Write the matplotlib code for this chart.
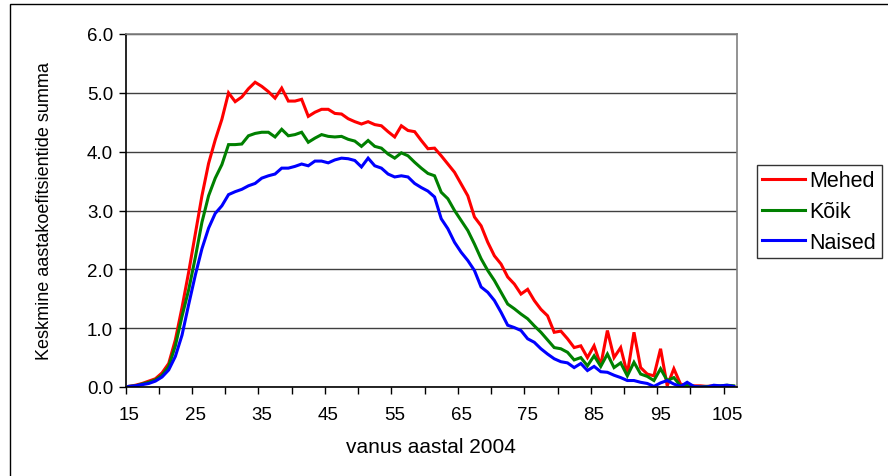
import numpy as np
import matplotlib.pyplot as plt
from matplotlib.patches import Rectangle

plt.rcParams['font.family'] = ['Liberation Sans', 'DejaVu Sans']

# vanus 15..106
ages = list(range(15, 107))

mehed = [0.01, 0.03, 0.06, 0.10, 0.14, 0.24, 0.40, 0.80, 1.35, 1.95,
         2.60, 3.25, 3.80, 4.20, 4.55, 5.00, 4.85, 4.93, 5.07, 5.18,
         5.11, 5.02, 4.91, 5.08, 4.86, 4.86, 4.89, 4.60, 4.67, 4.72,
         4.72, 4.65, 4.64, 4.56, 4.51, 4.47, 4.51, 4.46, 4.44, 4.34,
         4.25, 4.44, 4.36, 4.34, 4.19, 4.05, 4.06, 3.93, 3.79, 3.65,
         3.45, 3.25, 2.89, 2.74, 2.46, 2.23, 2.09, 1.87, 1.75, 1.58,
         1.66, 1.47, 1.32, 1.21, 0.93, 0.95, 0.82, 0.67, 0.70, 0.50,
         0.70, 0.37, 0.96, 0.50, 0.67, 0.22, 0.93, 0.33, 0.22, 0.19,
         0.65, 0.02, 0.31, 0.05, 0.02, 0.02, 0.02, 0.01, 0.02, 0.01,
         0.02, 0.01]

koik = [0.01, 0.02, 0.05, 0.08, 0.12, 0.20, 0.35, 0.70, 1.20, 1.65,
        2.20, 2.80, 3.25, 3.55, 3.78, 4.12, 4.12, 4.13, 4.27, 4.31,
        4.33, 4.33, 4.25, 4.38, 4.27, 4.29, 4.33, 4.16, 4.23, 4.29,
        4.26, 4.25, 4.26, 4.21, 4.18, 4.09, 4.19, 4.09, 4.06, 3.96,
        3.89, 3.98, 3.93, 3.82, 3.72, 3.63, 3.59, 3.31, 3.20, 3.00,
        2.83, 2.66, 2.43, 2.18, 1.98, 1.81, 1.61, 1.41, 1.33, 1.24,
        1.16, 1.04, 0.93, 0.80, 0.67, 0.65, 0.59, 0.46, 0.50, 0.36,
        0.53, 0.35, 0.56, 0.33, 0.41, 0.19, 0.42, 0.22, 0.18, 0.11,
        0.31, 0.11, 0.16, 0.02, 0.03, 0.01, 0.00, 0.01, 0.01, 0.02,
        0.03, 0.02]

naised = [0.01, 0.02, 0.04, 0.06, 0.10, 0.17, 0.29, 0.52, 0.88, 1.40,
          1.90, 2.35, 2.70, 2.95, 3.08, 3.27, 3.32, 3.36, 3.42, 3.46,
          3.55, 3.59, 3.62, 3.72, 3.72, 3.75, 3.79, 3.76, 3.84, 3.84,
          3.81, 3.86, 3.89, 3.88, 3.85, 3.74, 3.89, 3.76, 3.72, 3.62,
          3.57, 3.59, 3.57, 3.46, 3.39, 3.33, 3.23, 2.86, 2.69, 2.46,
          2.29, 2.15, 1.98, 1.70, 1.61, 1.47, 1.27, 1.05, 1.01, 0.96,
          0.82, 0.76, 0.65, 0.56, 0.48, 0.43, 0.41, 0.33, 0.40, 0.28,
          0.35, 0.26, 0.25, 0.20, 0.16, 0.11, 0.11, 0.08, 0.06, 0.01,
          0.07, 0.11, 0.05, 0.01, 0.08, 0.01, 0.00, 0.00, 0.03, 0.02,
          0.03, 0.01]

seeria = [('Mehed', mehed, '#FF0000'),
          ('Kõik', koik, '#008000'),
          ('Naised', naised, '#0000FF')]

W, H = 888, 477
fig = plt.figure(figsize=(W / 100, H / 100), dpi=100)
ax = fig.add_axes([125.5 / W, 1 - 388 / H, (737 - 125.5) / W, (388 - 35) / H])

pos = np.arange(len(ages))
for nimi, vals, col in seeria:
    ax.plot(pos, vals, color=col, lw=2.2, label=nimi, solid_joinstyle='miter')

ax.set_xlim(-0.5, len(ages) - 0.5)
ax.set_ylim(0, 6)

# x-telg: kriipsud kategooriate vahel, sildid iga 10 aasta tagant
ax.set_xticks(np.arange(-0.5, len(ages) - 1, 5))
ax.set_xticklabels([])
lab_pos = [i for i, a in enumerate(ages) if (a - 15) % 10 == 0]
ax.set_xticks(lab_pos, minor=True)
ax.set_xticklabels([str(ages[i]) for i in lab_pos], minor=True, fontsize=13.5)
ax.tick_params(axis='x', which='major', direction='out', length=5, width=1, color='black')
ax.tick_params(axis='x', which='minor', length=0, pad=14)

ax.set_yticks(range(0, 7))
ax.set_yticklabels(['%.1f' % v for v in range(0, 7)], fontsize=13.5)
ax.tick_params(axis='y', direction='out', length=5, width=1, pad=4)

ax.grid(axis='y', color='#404040', lw=1)
ax.set_axisbelow(True)

ax.spines['left'].set_color('black')
ax.spines['bottom'].set_color('black')
ax.spines['top'].set_color('#808080')
ax.spines['right'].set_color('#808080')
for s in ax.spines.values():
    s.set_linewidth(1.2)

ax.set_xlabel('vanus aastal 2004', fontsize=15, labelpad=10)
ax.set_ylabel('Keskmine aastakoefitsientide summa', fontsize=13, labelpad=24)

leg = fig.legend(loc='upper left', bbox_to_anchor=(757 / W, 1 - 166 / H),
                 fontsize=15.5, frameon=True, fancybox=False, handlelength=2.0,
                 handletextpad=0.2, borderpad=0.25, labelspacing=0.45,
                 borderaxespad=0)
leg.get_frame().set_edgecolor('black')
leg.get_frame().set_linewidth(1)

# diagrammi ala raam
fig.patches.append(Rectangle((10 / W, -0.1), 2, 1.1 - 5 / H, transform=fig.transFigure,
                             fill=False, edgecolor='black', lw=1))

plt.savefig('out.png', dpi=100)
